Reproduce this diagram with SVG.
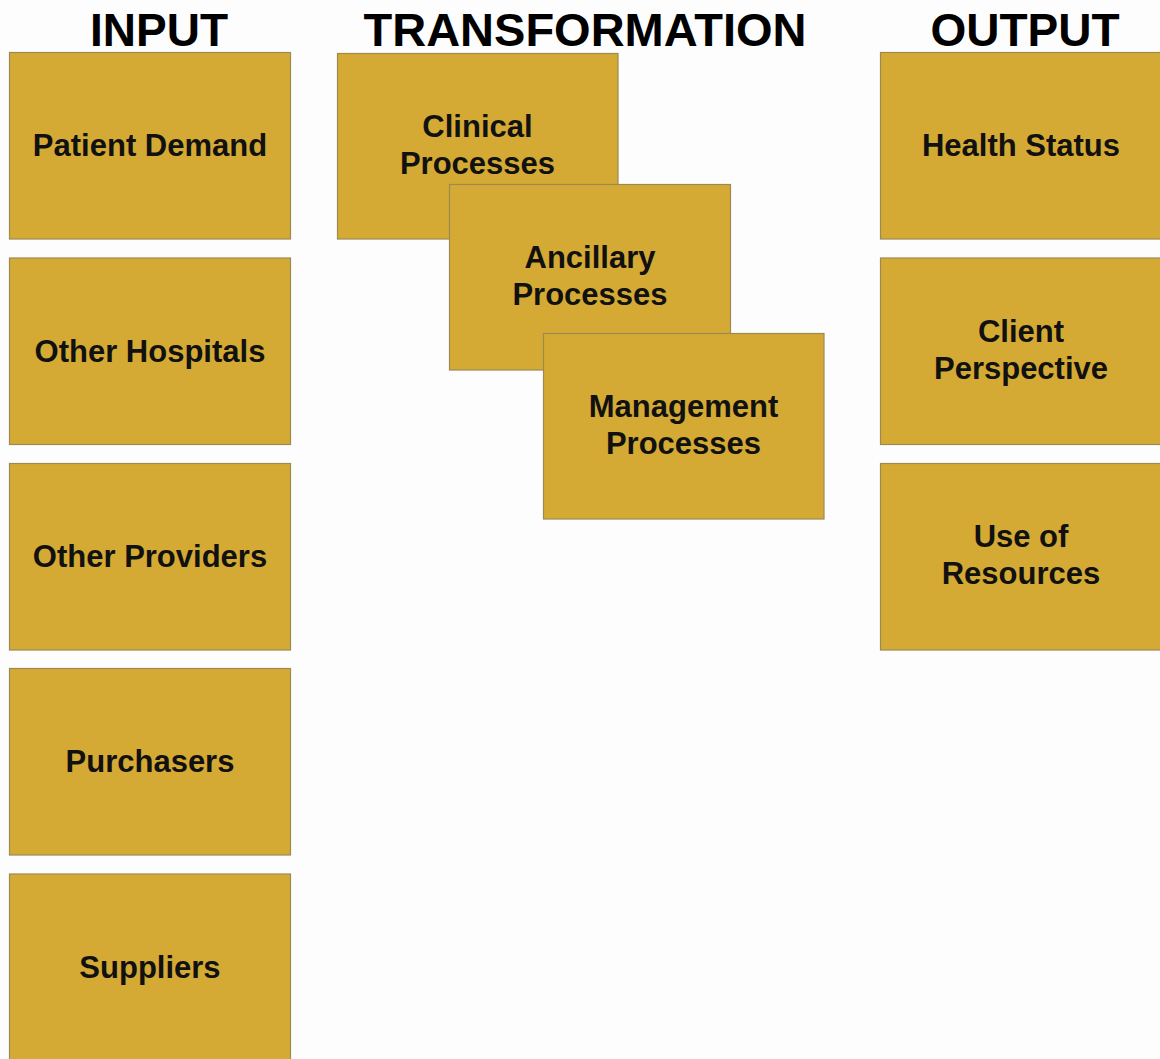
<svg xmlns="http://www.w3.org/2000/svg" width="1160" height="1059" viewBox="0 0 1160 1059">
<style>
.box{fill:#D4AA34;stroke:#9C8A55;stroke-width:1.2}
.t{font-family:"Liberation Sans",Arial,sans-serif;font-weight:bold;font-size:31px;fill:#111;text-anchor:middle}
.h{font-family:"Liberation Sans",Arial,sans-serif;font-weight:bold;font-size:46px;fill:#000;text-anchor:middle}
</style>
<rect width="1160" height="1059" fill="#FDFDFD"/>
<g id="titles">
<text class="h" x="159" y="46">INPUT</text>
<text class="h" x="585" y="46" style="font-size:47px">TRANSFORMATION</text>
<text class="h" x="1025" y="46">OUTPUT</text>
</g>
<g id="connectors"></g>
<g id="patient-demand"><rect class="box" x="9.5" y="52.5" width="281" height="186.5"/><text class="t" x="150" y="156">Patient Demand</text></g>
<g id="other-hospitals"><rect class="box" x="9.5" y="258" width="281" height="186.5"/><text class="t" x="150" y="361.5">Other Hospitals</text></g>
<g id="other-providers"><rect class="box" x="9.5" y="463.5" width="281" height="186.5"/><text class="t" x="150" y="567">Other Providers</text></g>
<g id="purchasers"><rect class="box" x="9.5" y="668.5" width="281" height="186.5"/><text class="t" x="150" y="772">Purchasers</text></g>
<g id="suppliers"><rect class="box" x="9.5" y="874" width="281" height="190"/><text class="t" x="150" y="978">Suppliers</text></g>
<g id="clinical"><rect class="box" x="337.5" y="53.5" width="280.5" height="185.5"/><text class="t" x="477.5" y="137">Clinical</text><text class="t" x="477.5" y="174">Processes</text></g>
<g id="ancillary"><rect class="box" x="449.5" y="184.5" width="281" height="185.5"/><text class="t" x="590" y="268">Ancillary</text><text class="t" x="590" y="305">Processes</text></g>
<g id="management"><rect class="box" x="543.5" y="333.5" width="280.5" height="185.5"/><text class="t" x="683.5" y="417">Management</text><text class="t" x="683.5" y="454">Processes</text></g>
<g id="health-status"><rect class="box" x="880.5" y="52.5" width="282" height="186.5"/><text class="t" x="1021" y="156">Health Status</text></g>
<g id="client-perspective"><rect class="box" x="880.5" y="258" width="282" height="186.5"/><text class="t" x="1021" y="342">Client</text><text class="t" x="1021" y="379">Perspective</text></g>
<g id="use-of-resources"><rect class="box" x="880.5" y="463.5" width="282" height="186.5"/><text class="t" x="1021" y="547">Use of</text><text class="t" x="1021" y="584">Resources</text></g>
</svg>
